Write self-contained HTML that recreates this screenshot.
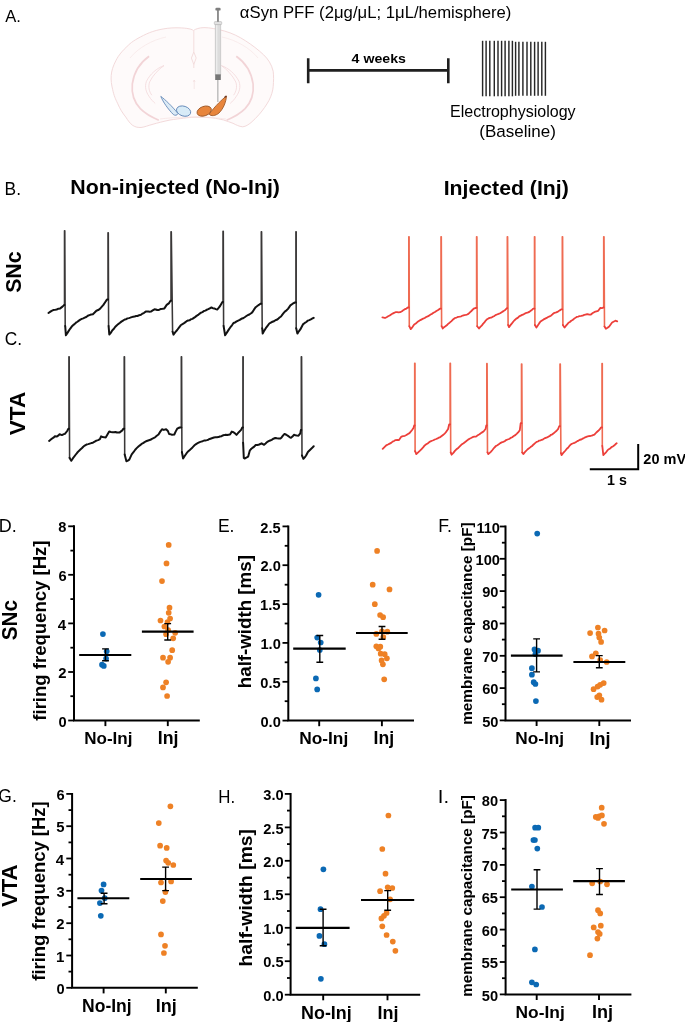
<!DOCTYPE html>
<html><head><meta charset="utf-8"><style>
html,body{margin:0;padding:0;background:#fff;overflow:hidden;}
svg{display:block;}
.ov{position:absolute;left:0;top:0;will-change:transform;}
text{font-family:"Liberation Sans",sans-serif;fill:#000;}
</style></head><body>
<svg width="685" height="1022" viewBox="0 0 685 1022">
<rect width="685" height="1022" fill="#fff"/>
<g>
 <path d="M193.5 30.5 C191 28.5 184 27.8 176 27.8 C165 27.8 154 30.5 146.6 33.9 C138 38 132 41.5 128.6 45 C122 51 118.5 55.5 116.1 60.2 C113 66 111.5 71 111.2 75.5 C110.8 80 111.5 85 112.6 89.3 C114 96 115.5 99 117.5 103.2 C120 109 122.5 113 125.8 117.1 C128 120.5 130 123.5 132.7 125.4 C135.5 127.2 138 127.6 141 127.5 C145 127 148 125.5 152 124.5 C158 122.8 163 121.5 170 120 C180 118.5 188 117.5 194 117.2 C200 117.2 206 117.2 212 117.8 C217 118.5 220 119.2 223.3 119.9 C227 121 230 122.3 233 123.3 C236 124.8 239 126.5 242.7 126.8 C246 126.5 248.5 124.5 251 122.6 C254 120 256.5 117.5 259.3 114.3 C263 110 266.5 105 269 100.4 C271.5 95.5 272.8 91 273.2 86.6 C273.6 81 273.8 76 273.2 71.3 C271.5 64 268 59 263.5 54.7 C258 49.5 252 45 245.5 40.8 C239 36.5 232 33.2 224.7 31.1 C217 29 210 27.6 203.9 27.6 C199 27.8 196 28.8 193.5 30.5 Z" fill="#fefafa" stroke="#f3dadb" stroke-width="1"/>
 <path d="M193.8 31 L193.8 52 M193.8 52 L191.4 58 L193.8 64.5 L196.2 58 Z M193.8 64.5 L193.8 68" fill="none" stroke="#f0d6d6" stroke-width="0.8"/>
 <path d="M194.2 80 L194.2 89 M193.2 82 L194.2 80 L195.2 82" fill="none" stroke="#f1dcdc" stroke-width="0.6"/>
 
 
 
 
 
 <path d="M149.1 56.3 C141 62 134 72 132.3 84 C131.2 95 135 103 140.3 108.7 C145 113.5 151 117 158.8 120.2" fill="none" stroke="#f2d4d7" stroke-width="1.7"/>
 <path d="M236.3 56.3 C244.4 62 251.4 72 253.1 84 C254.2 95 250.4 103 245.1 108.7 C240.4 113.5 234.4 117 226.6 120.2" fill="none" stroke="#f2d4d7" stroke-width="1.7"/>
 <path d="M164 65.6 C157 68 150 74 146.4 81.4 C144.5 87 146 92 149.1 96.4 C151 99.5 153 101.5 155.2 103.4 M164 65.6 C158.5 69.5 153 75 149.6 82 C148 87 149.2 91.5 151.8 95.2" fill="none" stroke="#f3d8da" stroke-width="0.8"/>
 <path d="M221.4 65.6 C228.4 68 235.4 74 239 81.4 C240.9 87 239.4 92 236.3 96.4 C234.4 99.5 232.4 101.5 230.2 103.4 M221.4 65.6 C226.9 69.5 232.4 75 235.8 82 C237.4 87 236.2 91.5 233.6 95.2" fill="none" stroke="#f3d8da" stroke-width="0.8"/>
 <path d="M160 119 C175 117.2 185 117 193 117 C201 117 211 117.2 226 119" fill="none" stroke="#f6e2e2" stroke-width="0.7"/>
 <path d="M166 37 C152 40 138 48 130 58 M222 37 C236 40 250 48 258 58" fill="none" stroke="#f8e8e8" stroke-width="0.8"/>
 <path d="M160.8 96.4 C165 99.5 172 106 178 113.6 C177 115.6 175 115.6 173.4 114.6 C168 109 163 102 160.8 96.4 Z" fill="#dcebf6" stroke="#6489b8" stroke-width="0.9"/>
 <ellipse cx="183.6" cy="111.1" rx="7.3" ry="4.9" transform="rotate(18 183.6 111.1)" fill="#d8ebf7" stroke="#6489b8" stroke-width="0.9"/>
 <ellipse cx="204.2" cy="111.1" rx="7.4" ry="4.7" transform="rotate(-20 204.2 111.1)" fill="#e8853c" stroke="#a05a2a" stroke-width="0.9"/>
 <path d="M226.5 96 C222.5 99 215 106 209.2 114.2 C211 116.5 215.5 116 219 113 C223.5 108.5 226 102 226.5 96 Z" fill="#e8853c" stroke="#a05a2a" stroke-width="0.9"/>
 <path d="M224.5 97.5 L226.3 96" stroke="#6b3a2a" stroke-width="1.4"/>
 <rect x="217.3" y="79.5" width="1.1" height="22.5" fill="#a9a9a9"/>
 <rect x="215.2" y="24" width="5.6" height="51" fill="#dcdcdc" stroke="#bcbcbc" stroke-width="0.6"/>
 <rect x="216" y="25" width="1.4" height="49" fill="#ececec"/>
 <rect x="215.2" y="74.4" width="5.6" height="5.6" fill="#767676"/>
 <rect x="214.3" y="21.6" width="7.4" height="3" rx="0.8" fill="#e2e2e2" stroke="#a8a8a8" stroke-width="0.5"/>
 <rect x="217.0" y="9.8" width="1.9" height="12" fill="#8d8d8d"/>
 <rect x="215.4" y="7.8" width="5.2" height="2.8" rx="1.2" fill="#7e7e7e"/>
</g>

<path d="M308.2 58.2 V83.2 M448.3 58.2 V83.2 M308.2 70.4 H448.3" stroke="#1f1f1f" stroke-width="2.6" fill="none"/>
<path d="M482.6 40.8 V96.3" stroke="#262626" stroke-width="1.45"/><path d="M486.1 40.8 V96.3" stroke="#262626" stroke-width="1.45"/><path d="M489.8 40.8 V96.3" stroke="#262626" stroke-width="1.45"/><path d="M494.3 40.8 V96.3" stroke="#262626" stroke-width="1.45"/><path d="M498.0 40.8 V96.3" stroke="#262626" stroke-width="1.45"/><path d="M501.6 40.8 V96.3" stroke="#262626" stroke-width="1.45"/><path d="M505.1 40.8 V96.3" stroke="#262626" stroke-width="1.45"/><path d="M508.9 40.8 V96.3" stroke="#262626" stroke-width="1.45"/><path d="M512.4 40.8 V96.3" stroke="#262626" stroke-width="1.45"/><path d="M515.6 41.8 V95.8" stroke="#262626" stroke-width="1.45"/><path d="M518.9 41.8 V95.8" stroke="#262626" stroke-width="1.45"/><path d="M522.9 41.8 V95.8" stroke="#262626" stroke-width="1.45"/><path d="M527.0 41.8 V95.8" stroke="#262626" stroke-width="1.45"/><path d="M530.8 41.8 V95.8" stroke="#262626" stroke-width="1.45"/><path d="M534.6 41.8 V95.8" stroke="#262626" stroke-width="1.45"/><path d="M538.1 41.8 V95.8" stroke="#262626" stroke-width="1.45"/><path d="M541.8 41.8 V95.8" stroke="#262626" stroke-width="1.45"/><path d="M545.4 41.8 V95.8" stroke="#262626" stroke-width="1.45"/>
<path d="M64.50 305.10 L64.50 230.65 L64.80 230.65 L65.20 326.00 M108.00 299.60 L108.00 232.65 L108.30 232.65 L108.60 326.00 M171.00 300.80 L171.00 231.85 L171.30 231.85 L172.60 331.70 M223.00 301.90 L223.00 231.15 L223.30 231.15 L223.60 325.90 M261.30 303.70 L261.30 231.85 L261.60 231.85 L262.20 328.20 M295.90 302.50 L295.90 231.85 L296.20 231.85 L296.20 328.20" fill="none" stroke="#3a3838" stroke-width="1.55" stroke-linejoin="round" stroke-linecap="round"/>
<path d="M48.50 313.00 L50.07 311.93 L51.63 310.87 L53.20 310.10 L54.95 309.88 L56.70 309.50 L58.45 308.71 L60.20 308.40 L62.50 306.60 L64.00 305.10 L64.50 305.10 M65.20 326.00 L65.90 335.30 L67.30 333.15 L68.70 330.89 L70.10 328.80 L71.55 326.80 L73.00 325.30 L74.47 324.13 L75.95 322.69 L77.43 321.74 L78.90 320.60 L80.35 319.63 L81.80 318.92 L83.25 318.38 L84.70 317.70 L86.27 317.02 L87.83 315.76 L89.40 315.10 L91.15 314.50 L92.90 314.20 L94.65 312.52 L96.40 310.70 L98.15 310.05 L99.90 308.90 L101.65 306.94 L103.40 304.90 L105.15 302.19 L106.90 299.60 L108.00 299.60 M108.60 326.00 L109.30 334.50 L110.75 332.89 L112.20 330.50 L113.65 329.08 L115.10 327.00 L116.63 325.55 L118.17 324.13 L119.70 323.00 L121.37 321.62 L123.03 320.56 L124.70 319.50 L126.10 319.20 L127.50 318.36 L128.90 318.11 L130.30 317.66 L131.70 317.10 L133.15 316.75 L134.60 316.58 L136.05 316.03 L137.50 316.00 L139.25 315.15 L141.00 314.80 L142.57 313.57 L144.13 312.77 L145.70 311.60 L147.00 311.56 L148.30 311.50 L149.60 311.65 L150.90 311.60 L152.70 310.42 L154.50 309.30 L155.83 309.45 L157.17 310.00 L158.50 310.10 L160.90 308.90 L162.65 308.76 L164.40 308.40 L166.70 304.90 L169.10 303.10 L170.50 300.80 L171.00 300.80 M172.60 331.70 L173.50 334.60 L175.35 332.16 L177.20 330.00 L178.95 327.69 L180.70 325.30 L182.17 324.29 L183.65 323.46 L185.12 322.35 L186.60 321.20 L188.05 320.51 L189.50 320.32 L190.95 319.26 L192.40 318.90 L195.00 317.10 L196.57 315.89 L198.13 314.91 L199.70 313.60 L201.10 312.65 L202.50 312.07 L203.90 311.06 L205.30 310.65 L206.70 309.80 L208.27 309.18 L209.83 308.31 L211.40 307.50 L212.85 308.21 L214.30 308.40 L215.75 309.11 L217.20 309.50 L218.65 307.80 L220.10 306.00 L222.40 301.90 L223.00 301.90 M223.60 325.90 L225.10 335.30 L227.00 332.39 L228.90 329.40 L230.43 327.24 L231.97 325.32 L233.50 323.00 L235.07 322.45 L236.63 321.39 L238.20 320.60 L239.77 319.93 L241.33 318.82 L242.90 318.30 L244.65 317.26 L246.40 316.00 L247.85 315.18 L249.30 314.48 L250.75 313.48 L252.20 312.40 L253.95 309.68 L255.70 307.20 L257.27 305.97 L258.83 304.96 L260.40 303.70 L261.30 303.70 M262.20 328.20 L262.70 333.60 L264.25 330.63 L265.80 328.20 L267.55 325.83 L269.30 323.50 L270.87 322.55 L272.43 321.75 L274.00 321.20 L275.37 320.19 L276.73 319.82 L278.10 318.90 L279.55 317.49 L281.00 316.50 L282.37 314.63 L283.73 312.97 L285.10 311.30 L286.55 310.31 L288.00 308.90 L290.40 305.40 L292.70 303.70 L295.00 302.50 L295.90 302.50 M296.20 328.20 L297.40 333.60 L298.85 331.27 L300.30 329.40 L301.75 326.72 L303.20 324.10 L304.77 322.96 L306.33 321.98 L307.90 320.60 L309.35 320.10 L310.80 319.45 L312.25 318.45 L313.70 317.90" fill="none" stroke="#121212" stroke-width="2.0" stroke-linejoin="round" stroke-linecap="round"/>
<path d="M68.90 428.70 L68.90 356.65 L69.20 356.65 L69.60 457.90 M124.20 428.70 L124.20 356.75 L124.50 356.75 L124.70 454.40 M181.30 427.50 L181.30 356.75 L181.60 356.75 L181.90 452.00 M242.90 427.50 L242.90 356.75 L243.20 356.75 L243.10 442.70 M301.30 429.90 L301.30 356.75 L301.60 356.75 L302.00 455.50" fill="none" stroke="#3a3838" stroke-width="1.55" stroke-linejoin="round" stroke-linecap="round"/>
<path d="M49.10 440.90 L50.55 439.70 L52.00 438.52 L53.45 437.67 L54.90 436.30 L56.70 436.60 L58.15 435.71 L59.60 434.30 L61.90 435.10 L63.40 434.30 L64.90 433.90 L67.20 431.00 L68.40 428.70 L68.90 428.70 M69.60 457.90 L71.30 460.80 L72.67 458.69 L74.03 456.78 L75.40 455.00 L77.15 452.80 L78.90 450.90 L80.35 449.57 L81.80 448.30 L83.25 446.79 L84.70 445.60 L86.45 444.57 L88.20 444.10 L89.77 443.59 L91.33 443.09 L92.90 442.70 L94.65 441.69 L96.40 440.60 L98.15 440.15 L99.90 439.20 L101.10 436.30 L102.80 437.10 L104.25 437.36 L105.70 437.40 L107.45 434.51 L109.20 431.60 L110.95 431.97 L112.70 432.20 L114.10 432.34 L115.50 432.03 L116.90 432.54 L118.30 432.52 L119.70 432.40 L122.30 430.40 L123.50 428.70 L124.20 428.70 M124.70 454.40 L126.40 461.20 L127.85 460.61 L129.30 459.60 L131.70 454.40 L133.45 452.22 L135.20 449.70 L136.95 447.89 L138.70 446.20 L140.15 445.12 L141.60 443.93 L143.05 443.20 L144.50 442.10 L145.97 441.28 L147.45 440.71 L148.93 440.21 L150.40 439.80 L151.93 438.81 L153.47 438.11 L155.00 437.40 L156.75 435.70 L158.50 434.50 L160.25 431.62 L162.00 429.30 L163.80 429.90 L166.10 429.30 L167.90 431.00 L169.10 434.00 L170.55 434.20 L172.00 434.80 L174.30 434.50 L175.75 431.38 L177.20 428.70 L179.60 427.50 L181.30 427.50 M181.90 452.00 L183.10 458.50 L184.85 455.77 L186.60 453.20 L188.35 451.18 L190.10 449.70 L191.67 448.34 L193.23 446.63 L194.80 445.00 L196.43 443.84 L198.07 442.93 L199.70 442.10 L201.15 441.59 L202.60 441.17 L204.05 440.61 L205.50 440.40 L206.90 440.12 L208.30 439.72 L209.70 438.94 L211.10 438.47 L212.50 438.00 L213.97 437.54 L215.45 437.33 L216.93 437.24 L218.40 437.10 L219.85 436.47 L221.30 436.28 L222.75 435.41 L224.20 435.10 L225.65 434.68 L227.10 435.05 L228.55 434.67 L230.00 434.50 L231.80 431.60 L233.50 432.20 L235.00 433.35 L236.50 434.90 L238.80 432.20 L241.10 429.90 L242.30 427.50 L242.90 427.50 M243.10 442.70 L243.80 457.90 L244.60 458.50 L246.35 457.62 L248.10 456.70 L249.90 450.30 L251.35 448.71 L252.80 447.67 L254.25 446.59 L255.70 445.00 L257.45 444.95 L259.20 444.50 L261.60 443.30 L264.10 444.80 L265.55 443.56 L267.00 442.10 L268.57 441.20 L270.13 440.49 L271.70 439.80 L273.45 438.71 L275.20 438.00 L276.93 438.35 L278.67 438.42 L280.40 438.60 L281.77 437.19 L283.13 435.37 L284.50 433.90 L286.25 434.74 L288.00 435.90 L289.50 437.02 L291.00 437.80 L292.45 436.57 L293.90 434.80 L295.43 435.30 L296.97 435.57 L298.50 435.70 L300.30 433.40 L300.90 429.90 L301.30 429.90 M302.00 455.50 L303.40 458.80 L304.75 457.33 L306.10 455.50 L307.90 452.00 L310.20 449.70 L311.95 448.08 L313.70 446.20" fill="none" stroke="#121212" stroke-width="2.0" stroke-linejoin="round" stroke-linecap="round"/>
<path d="M408.80 307.50 L408.80 236.75 L409.10 236.75 L409.30 326.20 M441.00 308.70 L441.00 236.75 L441.30 236.75 L441.60 326.20 M476.60 307.80 L476.60 236.75 L476.90 236.75 L477.20 326.20 M507.30 308.10 L507.30 236.75 L507.60 236.75 L508.10 325.00 M534.50 308.70 L534.50 236.75 L534.80 236.75 L534.90 325.00 M562.30 309.30 L562.30 236.75 L562.60 236.75 L562.90 325.00 M603.70 307.50 L603.70 236.75 L604.00 236.75 L604.50 326.50" fill="none" stroke="#ef6b52" stroke-width="1.6" stroke-linejoin="round" stroke-linecap="round"/>
<path d="M382.40 317.40 L383.70 317.55 L385.00 318.00 L386.57 317.18 L388.13 316.25 L389.70 315.50 L391.15 314.41 L392.60 313.59 L394.05 312.90 L395.50 312.20 L397.07 312.07 L398.63 312.31 L400.20 312.20 L401.95 311.31 L403.70 309.90 L405.07 309.07 L406.43 308.54 L407.80 307.50 L408.80 307.50 M409.30 326.20 L410.70 329.10 L412.45 327.07 L414.20 324.50 L415.77 323.59 L417.33 322.09 L418.90 321.00 L420.35 320.09 L421.80 319.35 L423.25 318.58 L424.70 318.00 L426.18 316.96 L427.65 316.32 L429.12 315.60 L430.60 314.50 L432.05 313.82 L433.50 312.74 L434.95 311.96 L436.40 311.00 L438.15 310.02 L439.90 308.70 L441.00 308.70 M441.60 326.20 L442.80 328.50 L444.12 327.12 L445.45 326.29 L446.78 325.28 L448.10 323.90 L449.63 322.69 L451.17 321.31 L452.70 319.80 L455.00 318.00 L456.57 317.52 L458.13 316.89 L459.70 316.60 L461.23 316.26 L462.77 315.51 L464.30 315.10 L465.67 314.87 L467.03 314.56 L468.40 313.90 L469.90 312.39 L471.40 311.00 L473.70 308.70 L476.00 307.80 L476.60 307.80 M477.20 326.20 L479.00 328.50 L480.33 326.91 L481.67 325.68 L483.00 323.90 L484.37 322.46 L485.73 320.58 L487.10 319.20 L488.43 318.42 L489.75 317.85 L491.07 317.70 L492.40 316.90 L493.93 316.27 L495.47 315.10 L497.00 314.50 L498.57 313.92 L500.13 313.24 L501.70 312.20 L503.45 311.14 L505.20 309.90 L507.00 308.10 L507.30 308.10 M508.10 325.00 L509.00 327.10 L510.47 325.15 L511.93 323.39 L513.40 321.50 L514.85 319.99 L516.30 318.63 L517.75 317.86 L519.20 316.30 L520.68 315.66 L522.15 314.86 L523.62 314.37 L525.10 313.40 L526.63 312.76 L528.17 312.41 L529.70 311.60 L531.45 310.33 L533.20 308.70 L534.50 308.70 M534.90 325.00 L536.40 327.60 L537.77 325.40 L539.13 323.39 L540.50 321.50 L542.07 320.42 L543.63 319.42 L545.20 318.60 L546.65 317.92 L548.10 317.02 L549.55 316.38 L551.00 315.70 L552.75 314.04 L554.50 312.80 L556.25 312.43 L558.00 311.60 L559.75 310.37 L561.50 309.30 L562.30 309.30 M562.90 325.00 L564.50 327.60 L565.83 325.94 L567.17 324.38 L568.50 322.70 L569.87 321.96 L571.23 320.72 L572.60 320.03 L573.97 318.83 L575.33 317.88 L576.70 316.90 L578.18 316.61 L579.65 316.03 L581.12 315.97 L582.60 315.70 L584.20 314.92 L585.80 314.50 L587.50 314.22 L589.20 314.67 L590.90 314.50 L592.75 313.02 L594.60 311.90 L596.40 311.34 L598.20 310.80 L600.40 307.90 L601.90 308.20 L603.30 307.50 L603.70 307.50 M604.50 326.50 L605.90 328.70 L607.55 327.73 L609.20 326.50 L610.65 324.53 L612.10 322.50 L613.95 321.50 L615.80 320.70 L617.20 321.40" fill="none" stroke="#ec3f3a" stroke-width="1.8" stroke-linejoin="round" stroke-linecap="round"/>
<path d="M414.70 425.50 L414.70 363.25 L415.00 363.25 L415.10 451.20 M450.10 424.30 L450.10 363.25 L450.40 363.25 L450.70 452.40 M486.80 425.50 L486.80 363.65 L487.10 363.65 L487.50 452.40 M521.50 423.20 L521.50 364.05 L521.80 364.05 L522.20 452.40 M560.00 426.20 L560.00 364.05 L560.30 364.05 L560.90 453.10 M602.00 427.50 L602.00 363.45 L602.30 363.45 L602.30 445.90" fill="none" stroke="#ef6b52" stroke-width="1.6" stroke-linejoin="round" stroke-linecap="round"/>
<path d="M382.70 448.90 L384.45 447.16 L386.20 445.40 L387.95 444.53 L389.70 443.60 L391.15 442.88 L392.60 441.63 L394.05 441.01 L395.50 440.10 L397.25 439.96 L399.00 440.10 L401.40 436.60 L403.15 436.08 L404.90 435.80 L406.43 435.05 L407.97 434.00 L409.50 433.10 L411.90 430.20 L413.60 427.80 L414.20 425.50 L414.70 425.50 M415.10 451.20 L416.30 454.10 L418.15 452.38 L420.00 450.60 L421.57 449.01 L423.13 447.36 L424.70 445.40 L426.18 444.34 L427.65 443.41 L429.12 442.33 L430.60 441.30 L432.00 440.73 L433.40 440.25 L434.80 439.53 L436.20 439.00 L437.60 438.40 L438.97 437.59 L440.33 437.05 L441.70 436.00 L443.03 434.94 L444.37 433.88 L445.70 432.50 L448.10 429.00 L449.20 424.30 L450.10 424.30 M450.70 452.40 L451.60 454.70 L453.35 452.90 L455.10 450.60 L456.80 449.02 L458.50 447.70 L460.25 445.98 L462.00 444.20 L463.57 443.28 L465.13 442.06 L466.70 440.70 L468.15 439.62 L469.60 438.74 L471.05 438.04 L472.50 437.20 L474.25 436.66 L476.00 436.60 L477.75 435.30 L479.50 434.30 L481.25 432.86 L483.00 431.90 L484.30 430.54 L485.60 429.00 L486.30 425.50 L486.80 425.50 M487.50 452.40 L488.30 454.10 L489.67 452.89 L491.03 451.59 L492.40 450.00 L494.15 447.81 L495.90 446.00 L497.35 445.22 L498.80 444.29 L500.25 443.10 L501.70 442.40 L503.18 441.89 L504.65 441.21 L506.12 440.07 L507.60 439.50 L509.13 438.99 L510.67 437.91 L512.20 437.20 L513.77 436.03 L515.33 435.14 L516.90 433.70 L518.35 432.14 L519.80 430.20 L520.70 423.20 L521.50 423.20 M522.20 452.40 L523.30 454.10 L524.67 452.38 L526.03 450.99 L527.40 449.50 L528.97 448.34 L530.53 447.08 L532.10 446.00 L533.60 444.46 L535.10 443.17 L536.60 441.90 L537.90 441.50 L539.20 440.59 L540.50 440.37 L541.80 439.79 L543.10 439.30 L544.42 438.37 L545.74 437.89 L547.06 437.39 L548.38 436.67 L549.70 436.00 L551.03 434.78 L552.35 434.32 L553.67 433.24 L555.00 432.10 L556.60 430.71 L558.20 428.80 L559.20 426.20 L560.00 426.20 M560.90 453.10 L561.50 455.10 L562.83 453.35 L564.17 451.90 L565.50 450.50 L566.80 448.77 L568.10 447.71 L569.40 445.95 L570.70 444.60 L572.02 443.73 L573.33 443.22 L574.65 442.83 L575.97 442.11 L577.28 441.13 L578.60 440.60 L579.92 439.74 L581.24 439.51 L582.56 438.66 L583.88 438.07 L585.20 437.30 L586.93 436.64 L588.67 436.19 L590.40 436.00 L591.73 435.67 L593.07 435.09 L594.40 434.70 L596.35 432.51 L598.30 430.80 L599.65 429.40 L601.00 427.50 L602.00 427.50 M602.30 445.90 L603.30 455.10 L604.67 453.70 L606.05 452.32 L607.42 450.44 L608.80 449.20 L610.13 448.50 L611.47 447.16 L612.80 446.50 L614.10 445.60 L615.40 444.27 L616.70 443.20" fill="none" stroke="#ec3f3a" stroke-width="1.8" stroke-linejoin="round" stroke-linecap="round"/>
<path d="M589.8 469.3 H638.2 V443.9" fill="none" stroke="#000" stroke-width="2"/>
<path d="M74.0 525.3 V720.5 H199.8" fill="none" stroke="#000" stroke-width="2"/>
<path d="M68.2 720.5 H74.0" stroke="#000" stroke-width="1.8"/>
<path d="M68.2 672.0 H74.0" stroke="#000" stroke-width="1.8"/>
<path d="M68.2 623.4 H74.0" stroke="#000" stroke-width="1.8"/>
<path d="M68.2 574.8 H74.0" stroke="#000" stroke-width="1.8"/>
<path d="M68.2 526.3 H74.0" stroke="#000" stroke-width="1.8"/>
<path d="M70.4 696.2 H74.0" stroke="#000" stroke-width="1.8"/>
<path d="M70.4 647.7 H74.0" stroke="#000" stroke-width="1.8"/>
<path d="M70.4 599.1 H74.0" stroke="#000" stroke-width="1.8"/>
<path d="M70.4 550.6 H74.0" stroke="#000" stroke-width="1.8"/>
<path d="M105.4 720.5 V726.1" stroke="#000" stroke-width="1.9"/>
<path d="M167.8 720.5 V726.1" stroke="#000" stroke-width="1.9"/>
<circle cx="102.9" cy="634.1" r="2.85" fill="#0b69b4"/>
<circle cx="106.7" cy="651.3" r="2.85" fill="#0b69b4"/>
<circle cx="106.1" cy="658.6" r="2.85" fill="#0b69b4"/>
<circle cx="102.0" cy="664.7" r="2.85" fill="#0b69b4"/>
<circle cx="103.8" cy="665.9" r="2.85" fill="#0b69b4"/>
<circle cx="168.7" cy="544.9" r="2.85" fill="#ee8125"/>
<circle cx="166.5" cy="563.4" r="2.85" fill="#ee8125"/>
<circle cx="162.0" cy="581.1" r="2.85" fill="#ee8125"/>
<circle cx="169.5" cy="607.7" r="2.85" fill="#ee8125"/>
<circle cx="168.7" cy="612.8" r="2.85" fill="#ee8125"/>
<circle cx="170.1" cy="618.5" r="2.85" fill="#ee8125"/>
<circle cx="160.5" cy="620.5" r="2.85" fill="#ee8125"/>
<circle cx="167.5" cy="622.0" r="2.85" fill="#ee8125"/>
<circle cx="164.4" cy="626.5" r="2.85" fill="#ee8125"/>
<circle cx="168.1" cy="630.1" r="2.85" fill="#ee8125"/>
<circle cx="175.2" cy="632.8" r="2.85" fill="#ee8125"/>
<circle cx="166.1" cy="634.2" r="2.85" fill="#ee8125"/>
<circle cx="173.2" cy="638.3" r="2.85" fill="#ee8125"/>
<circle cx="172.2" cy="650.2" r="2.85" fill="#ee8125"/>
<circle cx="163.0" cy="657.7" r="2.85" fill="#ee8125"/>
<circle cx="170.1" cy="657.7" r="2.85" fill="#ee8125"/>
<circle cx="168.1" cy="661.8" r="2.85" fill="#ee8125"/>
<circle cx="166.1" cy="682.3" r="2.85" fill="#ee8125"/>
<circle cx="163.0" cy="687.4" r="2.85" fill="#ee8125"/>
<circle cx="167.1" cy="696.0" r="2.85" fill="#ee8125"/>
<path d="M79.2 655.0 H131.3" stroke="#000" stroke-width="2.15"/>
<path d="M141.9 631.6 H193.6" stroke="#000" stroke-width="2.15"/>
<path d="M105.5 648.9 V660.7 M102.1 648.9 H108.9 M102.1 660.7 H108.9" stroke="#000" stroke-width="1.4" fill="none"/>
<path d="M167.7 623.6 V640.0 M164.3 623.6 H171.1 M164.3 640.0 H171.1" stroke="#000" stroke-width="1.4" fill="none"/>
<path d="M288.3 525.4 V720.6 H414.0" fill="none" stroke="#000" stroke-width="2"/>
<path d="M282.5 720.6 H288.3" stroke="#000" stroke-width="1.8"/>
<path d="M282.5 681.8 H288.3" stroke="#000" stroke-width="1.8"/>
<path d="M282.5 642.9 H288.3" stroke="#000" stroke-width="1.8"/>
<path d="M282.5 604.1 H288.3" stroke="#000" stroke-width="1.8"/>
<path d="M282.5 565.2 H288.3" stroke="#000" stroke-width="1.8"/>
<path d="M282.5 526.4 H288.3" stroke="#000" stroke-width="1.8"/>
<path d="M284.7 701.2 H288.3" stroke="#000" stroke-width="1.8"/>
<path d="M284.7 662.3 H288.3" stroke="#000" stroke-width="1.8"/>
<path d="M284.7 623.5 H288.3" stroke="#000" stroke-width="1.8"/>
<path d="M284.7 584.7 H288.3" stroke="#000" stroke-width="1.8"/>
<path d="M284.7 545.8 H288.3" stroke="#000" stroke-width="1.8"/>
<path d="M319.2 720.6 V726.2" stroke="#000" stroke-width="1.9"/>
<path d="M381.9 720.6 V726.2" stroke="#000" stroke-width="1.9"/>
<circle cx="318.6" cy="594.8" r="2.85" fill="#0b69b4"/>
<circle cx="317.2" cy="637.6" r="2.85" fill="#0b69b4"/>
<circle cx="320.7" cy="642.5" r="2.85" fill="#0b69b4"/>
<circle cx="319.8" cy="650.0" r="2.85" fill="#0b69b4"/>
<circle cx="315.9" cy="678.4" r="2.85" fill="#0b69b4"/>
<circle cx="317.2" cy="689.4" r="2.85" fill="#0b69b4"/>
<circle cx="377.1" cy="550.9" r="2.85" fill="#ee8125"/>
<circle cx="372.7" cy="584.7" r="2.85" fill="#ee8125"/>
<circle cx="389.5" cy="589.4" r="2.85" fill="#ee8125"/>
<circle cx="374.8" cy="604.2" r="2.85" fill="#ee8125"/>
<circle cx="380.1" cy="615.0" r="2.85" fill="#ee8125"/>
<circle cx="383.1" cy="617.2" r="2.85" fill="#ee8125"/>
<circle cx="376.3" cy="633.9" r="2.85" fill="#ee8125"/>
<circle cx="382.0" cy="631.3" r="2.85" fill="#ee8125"/>
<circle cx="387.3" cy="631.7" r="2.85" fill="#ee8125"/>
<circle cx="383.3" cy="637.0" r="2.85" fill="#ee8125"/>
<circle cx="376.3" cy="646.3" r="2.85" fill="#ee8125"/>
<circle cx="380.3" cy="646.7" r="2.85" fill="#ee8125"/>
<circle cx="378.5" cy="648.5" r="2.85" fill="#ee8125"/>
<circle cx="380.7" cy="653.7" r="2.85" fill="#ee8125"/>
<circle cx="384.7" cy="654.2" r="2.85" fill="#ee8125"/>
<circle cx="386.9" cy="658.3" r="2.85" fill="#ee8125"/>
<circle cx="381.6" cy="660.4" r="2.85" fill="#ee8125"/>
<circle cx="382.9" cy="664.3" r="2.85" fill="#ee8125"/>
<circle cx="384.2" cy="679.3" r="2.85" fill="#ee8125"/>
<path d="M293.2 648.6 H345.7" stroke="#000" stroke-width="2.15"/>
<path d="M356.0 633.0 H407.7" stroke="#000" stroke-width="2.15"/>
<path d="M319.8 635.5 V662.3 M316.4 635.5 H323.2 M316.4 662.3 H323.2" stroke="#000" stroke-width="1.4" fill="none"/>
<path d="M382.0 626.5 V639.2 M378.6 626.5 H385.4 M378.6 639.2 H385.4" stroke="#000" stroke-width="1.4" fill="none"/>
<path d="M505.5 525.5 V720.4 H631.0" fill="none" stroke="#000" stroke-width="2"/>
<path d="M499.7 720.4 H505.5" stroke="#000" stroke-width="1.8"/>
<path d="M499.7 688.1 H505.5" stroke="#000" stroke-width="1.8"/>
<path d="M499.7 655.8 H505.5" stroke="#000" stroke-width="1.8"/>
<path d="M499.7 623.5 H505.5" stroke="#000" stroke-width="1.8"/>
<path d="M499.7 591.1 H505.5" stroke="#000" stroke-width="1.8"/>
<path d="M499.7 558.8 H505.5" stroke="#000" stroke-width="1.8"/>
<path d="M499.7 526.5 H505.5" stroke="#000" stroke-width="1.8"/>
<path d="M501.9 704.2 H505.5" stroke="#000" stroke-width="1.8"/>
<path d="M501.9 671.9 H505.5" stroke="#000" stroke-width="1.8"/>
<path d="M501.9 639.6 H505.5" stroke="#000" stroke-width="1.8"/>
<path d="M501.9 607.3 H505.5" stroke="#000" stroke-width="1.8"/>
<path d="M501.9 575.0 H505.5" stroke="#000" stroke-width="1.8"/>
<path d="M501.9 542.7 H505.5" stroke="#000" stroke-width="1.8"/>
<path d="M536.6 720.4 V726.0" stroke="#000" stroke-width="1.9"/>
<path d="M599.3 720.4 V726.0" stroke="#000" stroke-width="1.9"/>
<circle cx="537.2" cy="533.6" r="2.85" fill="#0b69b4"/>
<circle cx="534.5" cy="649.4" r="2.85" fill="#0b69b4"/>
<circle cx="538.0" cy="650.7" r="2.85" fill="#0b69b4"/>
<circle cx="535.4" cy="654.2" r="2.85" fill="#0b69b4"/>
<circle cx="531.9" cy="668.2" r="2.85" fill="#0b69b4"/>
<circle cx="531.9" cy="674.7" r="2.85" fill="#0b69b4"/>
<circle cx="533.7" cy="682.2" r="2.85" fill="#0b69b4"/>
<circle cx="535.4" cy="684.0" r="2.85" fill="#0b69b4"/>
<circle cx="535.9" cy="701.1" r="2.85" fill="#0b69b4"/>
<circle cx="597.9" cy="627.5" r="2.85" fill="#ee8125"/>
<circle cx="604.6" cy="630.5" r="2.85" fill="#ee8125"/>
<circle cx="590.1" cy="633.1" r="2.85" fill="#ee8125"/>
<circle cx="598.5" cy="633.7" r="2.85" fill="#ee8125"/>
<circle cx="599.3" cy="637.5" r="2.85" fill="#ee8125"/>
<circle cx="601.1" cy="641.9" r="2.85" fill="#ee8125"/>
<circle cx="595.8" cy="653.3" r="2.85" fill="#ee8125"/>
<circle cx="592.0" cy="656.4" r="2.85" fill="#ee8125"/>
<circle cx="600.2" cy="660.0" r="2.85" fill="#ee8125"/>
<circle cx="606.7" cy="662.0" r="2.85" fill="#ee8125"/>
<circle cx="603.7" cy="683.1" r="2.85" fill="#ee8125"/>
<circle cx="600.2" cy="684.8" r="2.85" fill="#ee8125"/>
<circle cx="597.6" cy="686.6" r="2.85" fill="#ee8125"/>
<circle cx="593.6" cy="689.2" r="2.85" fill="#ee8125"/>
<circle cx="599.3" cy="695.3" r="2.85" fill="#ee8125"/>
<circle cx="597.2" cy="697.1" r="2.85" fill="#ee8125"/>
<circle cx="601.5" cy="699.7" r="2.85" fill="#ee8125"/>
<path d="M510.9 655.6 H562.6" stroke="#000" stroke-width="2.15"/>
<path d="M573.4 662.0 H625.3" stroke="#000" stroke-width="2.15"/>
<path d="M536.6 638.9 V671.9 M533.2 638.9 H540.0 M533.2 671.9 H540.0" stroke="#000" stroke-width="1.4" fill="none"/>
<path d="M599.3 655.6 V667.8 M595.9 655.6 H602.7 M595.9 667.8 H602.7" stroke="#000" stroke-width="1.4" fill="none"/>
<path d="M72.1 792.9 V987.8 H197.8" fill="none" stroke="#000" stroke-width="2"/>
<path d="M66.3 987.8 H72.1" stroke="#000" stroke-width="1.8"/>
<path d="M66.3 955.5 H72.1" stroke="#000" stroke-width="1.8"/>
<path d="M66.3 923.2 H72.1" stroke="#000" stroke-width="1.8"/>
<path d="M66.3 890.8 H72.1" stroke="#000" stroke-width="1.8"/>
<path d="M66.3 858.5 H72.1" stroke="#000" stroke-width="1.8"/>
<path d="M66.3 826.2 H72.1" stroke="#000" stroke-width="1.8"/>
<path d="M66.3 793.9 H72.1" stroke="#000" stroke-width="1.8"/>
<path d="M68.5 971.6 H72.1" stroke="#000" stroke-width="1.8"/>
<path d="M68.5 939.3 H72.1" stroke="#000" stroke-width="1.8"/>
<path d="M68.5 907.0 H72.1" stroke="#000" stroke-width="1.8"/>
<path d="M68.5 874.7 H72.1" stroke="#000" stroke-width="1.8"/>
<path d="M68.5 842.4 H72.1" stroke="#000" stroke-width="1.8"/>
<path d="M68.5 810.1 H72.1" stroke="#000" stroke-width="1.8"/>
<path d="M103.6 987.8 V993.4" stroke="#000" stroke-width="1.9"/>
<path d="M165.8 987.8 V993.4" stroke="#000" stroke-width="1.9"/>
<circle cx="103.6" cy="884.4" r="2.85" fill="#0b69b4"/>
<circle cx="101.5" cy="890.6" r="2.85" fill="#0b69b4"/>
<circle cx="104.7" cy="898.2" r="2.85" fill="#0b69b4"/>
<circle cx="99.9" cy="903.1" r="2.85" fill="#0b69b4"/>
<circle cx="100.8" cy="915.8" r="2.85" fill="#0b69b4"/>
<circle cx="170.4" cy="806.3" r="2.85" fill="#ee8125"/>
<circle cx="158.8" cy="823.1" r="2.85" fill="#ee8125"/>
<circle cx="160.1" cy="845.7" r="2.85" fill="#ee8125"/>
<circle cx="166.7" cy="847.9" r="2.85" fill="#ee8125"/>
<circle cx="166.1" cy="860.6" r="2.85" fill="#ee8125"/>
<circle cx="168.2" cy="862.8" r="2.85" fill="#ee8125"/>
<circle cx="173.3" cy="865.0" r="2.85" fill="#ee8125"/>
<circle cx="161.0" cy="882.5" r="2.85" fill="#ee8125"/>
<circle cx="171.1" cy="881.4" r="2.85" fill="#ee8125"/>
<circle cx="165.4" cy="892.1" r="2.85" fill="#ee8125"/>
<circle cx="162.8" cy="901.1" r="2.85" fill="#ee8125"/>
<circle cx="161.0" cy="934.4" r="2.85" fill="#ee8125"/>
<circle cx="165.0" cy="945.8" r="2.85" fill="#ee8125"/>
<circle cx="163.9" cy="953.0" r="2.85" fill="#ee8125"/>
<path d="M77.4 898.2 H129.3" stroke="#000" stroke-width="2.15"/>
<path d="M140.2 879.0 H191.9" stroke="#000" stroke-width="2.15"/>
<path d="M104.1 893.2 V903.7 M100.7 893.2 H107.5 M100.7 903.7 H107.5" stroke="#000" stroke-width="1.4" fill="none"/>
<path d="M165.6 867.1 V890.6 M162.2 867.1 H169.0 M162.2 890.6 H169.0" stroke="#000" stroke-width="1.4" fill="none"/>
<path d="M290.6 792.9 V994.7 H420.2" fill="none" stroke="#000" stroke-width="2"/>
<path d="M284.8 994.7 H290.6" stroke="#000" stroke-width="1.8"/>
<path d="M284.8 961.2 H290.6" stroke="#000" stroke-width="1.8"/>
<path d="M284.8 927.8 H290.6" stroke="#000" stroke-width="1.8"/>
<path d="M284.8 894.3 H290.6" stroke="#000" stroke-width="1.8"/>
<path d="M284.8 860.8 H290.6" stroke="#000" stroke-width="1.8"/>
<path d="M284.8 827.4 H290.6" stroke="#000" stroke-width="1.8"/>
<path d="M284.8 793.9 H290.6" stroke="#000" stroke-width="1.8"/>
<path d="M287.0 978.0 H290.6" stroke="#000" stroke-width="1.8"/>
<path d="M287.0 944.5 H290.6" stroke="#000" stroke-width="1.8"/>
<path d="M287.0 911.0 H290.6" stroke="#000" stroke-width="1.8"/>
<path d="M287.0 877.6 H290.6" stroke="#000" stroke-width="1.8"/>
<path d="M287.0 844.1 H290.6" stroke="#000" stroke-width="1.8"/>
<path d="M287.0 810.6 H290.6" stroke="#000" stroke-width="1.8"/>
<path d="M323.2 994.7 V1000.3" stroke="#000" stroke-width="1.9"/>
<path d="M387.5 994.7 V1000.3" stroke="#000" stroke-width="1.9"/>
<circle cx="323.4" cy="869.3" r="2.85" fill="#0b69b4"/>
<circle cx="320.5" cy="909.2" r="2.85" fill="#0b69b4"/>
<circle cx="319.4" cy="935.9" r="2.85" fill="#0b69b4"/>
<circle cx="324.4" cy="944.2" r="2.85" fill="#0b69b4"/>
<circle cx="320.9" cy="978.8" r="2.85" fill="#0b69b4"/>
<circle cx="388.4" cy="815.5" r="2.85" fill="#ee8125"/>
<circle cx="382.3" cy="849.0" r="2.85" fill="#ee8125"/>
<circle cx="385.5" cy="873.7" r="2.85" fill="#ee8125"/>
<circle cx="387.7" cy="887.3" r="2.85" fill="#ee8125"/>
<circle cx="392.3" cy="888.0" r="2.85" fill="#ee8125"/>
<circle cx="380.1" cy="891.2" r="2.85" fill="#ee8125"/>
<circle cx="390.1" cy="899.3" r="2.85" fill="#ee8125"/>
<circle cx="386.6" cy="912.9" r="2.85" fill="#ee8125"/>
<circle cx="384.0" cy="915.8" r="2.85" fill="#ee8125"/>
<circle cx="381.4" cy="918.4" r="2.85" fill="#ee8125"/>
<circle cx="382.3" cy="926.3" r="2.85" fill="#ee8125"/>
<circle cx="386.6" cy="935.0" r="2.85" fill="#ee8125"/>
<circle cx="392.8" cy="941.6" r="2.85" fill="#ee8125"/>
<circle cx="395.4" cy="950.8" r="2.85" fill="#ee8125"/>
<path d="M295.8 927.8 H349.6" stroke="#000" stroke-width="2.15"/>
<path d="M361.0 900.0 H414.2" stroke="#000" stroke-width="2.15"/>
<path d="M323.1 909.2 V945.8 M319.7 909.2 H326.5 M319.7 945.8 H326.5" stroke="#000" stroke-width="1.4" fill="none"/>
<path d="M387.7 890.6 V910.3 M384.3 890.6 H391.1 M384.3 910.3 H391.1" stroke="#000" stroke-width="1.4" fill="none"/>
<path d="M505.6 799.1 V994.4 H631.4" fill="none" stroke="#000" stroke-width="2"/>
<path d="M499.8 994.4 H505.6" stroke="#000" stroke-width="1.8"/>
<path d="M499.8 962.0 H505.6" stroke="#000" stroke-width="1.8"/>
<path d="M499.8 929.6 H505.6" stroke="#000" stroke-width="1.8"/>
<path d="M499.8 897.2 H505.6" stroke="#000" stroke-width="1.8"/>
<path d="M499.8 864.9 H505.6" stroke="#000" stroke-width="1.8"/>
<path d="M499.8 832.5 H505.6" stroke="#000" stroke-width="1.8"/>
<path d="M499.8 800.1 H505.6" stroke="#000" stroke-width="1.8"/>
<path d="M502.0 978.2 H505.6" stroke="#000" stroke-width="1.8"/>
<path d="M502.0 945.8 H505.6" stroke="#000" stroke-width="1.8"/>
<path d="M502.0 913.4 H505.6" stroke="#000" stroke-width="1.8"/>
<path d="M502.0 881.1 H505.6" stroke="#000" stroke-width="1.8"/>
<path d="M502.0 848.7 H505.6" stroke="#000" stroke-width="1.8"/>
<path d="M502.0 816.3 H505.6" stroke="#000" stroke-width="1.8"/>
<path d="M536.7 994.4 V1000.0" stroke="#000" stroke-width="1.9"/>
<path d="M599.0 994.4 V1000.0" stroke="#000" stroke-width="1.9"/>
<circle cx="535.1" cy="827.7" r="2.85" fill="#0b69b4"/>
<circle cx="538.3" cy="827.7" r="2.85" fill="#0b69b4"/>
<circle cx="533.4" cy="840.0" r="2.85" fill="#0b69b4"/>
<circle cx="534.9" cy="840.0" r="2.85" fill="#0b69b4"/>
<circle cx="537.3" cy="848.6" r="2.85" fill="#0b69b4"/>
<circle cx="531.9" cy="886.5" r="2.85" fill="#0b69b4"/>
<circle cx="542.0" cy="907.0" r="2.85" fill="#0b69b4"/>
<circle cx="534.9" cy="949.4" r="2.85" fill="#0b69b4"/>
<circle cx="531.9" cy="982.3" r="2.85" fill="#0b69b4"/>
<circle cx="536.2" cy="984.5" r="2.85" fill="#0b69b4"/>
<circle cx="601.7" cy="807.7" r="2.85" fill="#ee8125"/>
<circle cx="595.8" cy="816.9" r="2.85" fill="#ee8125"/>
<circle cx="599.1" cy="816.3" r="2.85" fill="#ee8125"/>
<circle cx="601.9" cy="815.4" r="2.85" fill="#ee8125"/>
<circle cx="598.0" cy="818.0" r="2.85" fill="#ee8125"/>
<circle cx="604.0" cy="823.8" r="2.85" fill="#ee8125"/>
<circle cx="592.2" cy="883.3" r="2.85" fill="#ee8125"/>
<circle cx="600.2" cy="881.5" r="2.85" fill="#ee8125"/>
<circle cx="607.0" cy="884.3" r="2.85" fill="#ee8125"/>
<circle cx="598.0" cy="910.2" r="2.85" fill="#ee8125"/>
<circle cx="600.2" cy="913.4" r="2.85" fill="#ee8125"/>
<circle cx="593.7" cy="927.4" r="2.85" fill="#ee8125"/>
<circle cx="600.8" cy="925.7" r="2.85" fill="#ee8125"/>
<circle cx="598.0" cy="932.1" r="2.85" fill="#ee8125"/>
<circle cx="599.7" cy="933.9" r="2.85" fill="#ee8125"/>
<circle cx="597.4" cy="938.6" r="2.85" fill="#ee8125"/>
<circle cx="590.0" cy="955.2" r="2.85" fill="#ee8125"/>
<path d="M511.2 889.5 H562.9" stroke="#000" stroke-width="2.15"/>
<path d="M573.2 881.1 H624.9" stroke="#000" stroke-width="2.15"/>
<path d="M537.0 869.7 V909.1 M533.6 869.7 H540.4 M533.6 909.1 H540.4" stroke="#000" stroke-width="1.4" fill="none"/>
<path d="M599.5 868.6 V894.5 M596.1 868.6 H602.9 M596.1 894.5 H602.9" stroke="#000" stroke-width="1.4" fill="none"/>
</svg>
<svg class="ov" width="685" height="1022" viewBox="0 0 685 1022">
<text transform="translate(5.30 21.90) scale(0.9700 1)" font-size="17.101" fill="#2a2829">A.</text>
<text transform="translate(239.83 18.07) scale(0.9948 1)" font-size="16.809" fill="#2a2829">αSyn PFF (2μg/μL; 1μL/hemisphere)</text>
<text transform="translate(351.62 62.67) scale(1.0806 1)" font-size="13.108" font-weight="bold" fill="#2a2829">4 weeks</text>
<text transform="translate(450.02 116.87) scale(0.9542 1)" font-size="16.809" fill="#2a2829">Electrophysiology</text>
<text transform="translate(479.28 137.16) scale(0.9822 1)" font-size="17.340" fill="#2a2829">(Baseline)</text>
<text transform="translate(4.61 195.00) scale(0.9455 1)" font-size="18.406" fill="#2a2829">B.</text>
<text transform="translate(4.83 344.52) scale(0.9536 1)" font-size="18.169" fill="#2a2829">C.</text>
<text transform="translate(70.31 194.49) scale(1.0393 1)" font-size="20.532" font-weight="bold" fill="#2a2829">Non-injected (No-Inj)</text>
<text transform="translate(443.71 194.51) scale(1.0403 1)" font-size="20.426" font-weight="bold" fill="#2a2829">Injected (Inj)</text>
<text transform="translate(21.08 292.84) rotate(-90) scale(0.9582 1)" font-size="22.254" font-weight="bold" fill="#2a2829">SNc</text>
<text transform="translate(24.90 435.23) rotate(-90) scale(0.9935 1)" font-size="22.754" font-weight="bold" fill="#2a2829">VTA</text>
<text transform="translate(643.36 463.95)" font-size="14.507" font-weight="bold" fill="#000">20 mV</text>
<text transform="translate(607.04 484.56) scale(1.0188 1)" font-size="14.000" font-weight="bold" fill="#000">1 s</text>
<text transform="translate(-1.24 531.70) scale(0.9989 1)" font-size="17.971" fill="#2a2829">D.</text>
<text transform="translate(217.90 531.90) scale(0.9601 1)" font-size="18.261" fill="#2a2829">E.</text>
<text transform="translate(438.18 531.90) scale(0.9696 1)" font-size="18.261" fill="#2a2829">F.</text>
<text transform="translate(-1.67 802.33)" font-size="17.465" fill="#2a2829">G.</text>
<text transform="translate(218.25 802.50) scale(0.9386 1)" font-size="17.971" fill="#2a2829">H.</text>
<text transform="translate(437.78 802.50) scale(1.1189 1)" font-size="18.116" fill="#2a2829">I.</text>
<text transform="translate(17.38 640.32) rotate(-90) scale(0.9296 1)" font-size="22.254" font-weight="bold" fill="#000">SNc</text>
<text transform="translate(17.10 907.12) rotate(-90) scale(0.9938 1)" font-size="22.319" font-weight="bold" fill="#000">VTA</text>
<text transform="translate(46.06 720.67) rotate(-90) scale(0.9628 1)" font-size="19.255" font-weight="bold" fill="#000">firing frequency [Hz]</text>
<text transform="translate(251.16 688.21) rotate(-90) scale(1.0241 1)" font-size="18.298" font-weight="bold" fill="#000">half-width [ms]</text>
<text transform="translate(471.77 724.77) rotate(-90) scale(1.0282 1)" font-size="14.894" font-weight="bold" fill="#000">membrane capacitance [pF]</text>
<text transform="translate(44.56 980.77) rotate(-90) scale(0.9590 1)" font-size="19.255" font-weight="bold" fill="#000">firing frequency [Hz]</text>
<text transform="translate(251.70 966.45) rotate(-90) scale(1.0157 1)" font-size="19.043" font-weight="bold" fill="#000">half-width [ms]</text>
<text transform="translate(471.77 996.77) rotate(-90) scale(1.0246 1)" font-size="14.894" font-weight="bold" fill="#000">membrane capacitance [pF]</text>
<text transform="translate(84.21 743.63)" font-size="17.026" font-weight="bold" fill="#000">No-Inj</text>
<text transform="translate(299.19 743.75)" font-size="17.323" font-weight="bold" fill="#000">No-Inj</text>
<text transform="translate(515.19 744.19)" font-size="17.249" font-weight="bold" fill="#000">No-Inj</text>
<text transform="translate(82.07 1011.98)" font-size="17.509" font-weight="bold" fill="#000">No-Inj</text>
<text transform="translate(301.05 1019.15)" font-size="17.881" font-weight="bold" fill="#000">No-Inj</text>
<text transform="translate(515.58 1017.87)" font-size="17.361" font-weight="bold" fill="#000">No-Inj</text>
<text transform="translate(157.86 744.05)" font-size="17.745" font-weight="bold" fill="#000">Inj</text>
<text transform="translate(373.56 743.98)" font-size="17.647" font-weight="bold" fill="#000">Inj</text>
<text transform="translate(589.54 744.77)" font-size="18.039" font-weight="bold" fill="#000">Inj</text>
<text transform="translate(155.64 1012.37)" font-size="18.039" font-weight="bold" fill="#000">Inj</text>
<text transform="translate(377.54 1019.27)" font-size="18.039" font-weight="bold" fill="#000">Inj</text>
<text transform="translate(592.04 1018.37)" font-size="18.039" font-weight="bold" fill="#000">Inj</text>
<text transform="translate(58.53 726.65)" font-size="14.648" font-weight="bold" fill="#000">0</text>
<text transform="translate(58.27 678.25)" font-size="14.857" font-weight="bold" fill="#000">2</text>
<text transform="translate(57.71 629.70)" font-size="15.072" font-weight="bold" fill="#000">4</text>
<text transform="translate(58.38 581.00)" font-size="14.648" font-weight="bold" fill="#000">6</text>
<text transform="translate(58.24 532.45)" font-size="14.648" font-weight="bold" fill="#000">8</text>
<text transform="translate(260.43 726.75)" font-size="14.648" font-weight="bold" fill="#000">0.0</text>
<text transform="translate(260.28 687.91)" font-size="14.648" font-weight="bold" fill="#000">0.5</text>
<text transform="translate(260.43 649.07)" font-size="14.648" font-weight="bold" fill="#000">1.0</text>
<text transform="translate(259.99 610.23)" font-size="14.857" font-weight="bold" fill="#000">1.5</text>
<text transform="translate(260.43 571.39)" font-size="14.648" font-weight="bold" fill="#000">2.0</text>
<text transform="translate(260.28 532.55)" font-size="14.648" font-weight="bold" fill="#000">2.5</text>
<text transform="translate(482.13 726.55)" font-size="14.648" font-weight="bold" fill="#000">50</text>
<text transform="translate(482.13 694.24)" font-size="14.648" font-weight="bold" fill="#000">60</text>
<text transform="translate(482.13 661.92)" font-size="14.648" font-weight="bold" fill="#000">70</text>
<text transform="translate(482.13 629.60)" font-size="14.648" font-weight="bold" fill="#000">80</text>
<text transform="translate(482.13 597.29)" font-size="14.648" font-weight="bold" fill="#000">90</text>
<text transform="translate(475.52 564.97)" font-size="14.648" font-weight="bold" fill="#000">100</text>
<text transform="translate(476.40 532.65)" font-size="14.648" font-weight="bold" fill="#000">110</text>
<text transform="translate(56.53 993.95)" font-size="14.648" font-weight="bold" fill="#000">0</text>
<text transform="translate(56.01 961.78)" font-size="15.072" font-weight="bold" fill="#000">1</text>
<text transform="translate(56.27 929.47)" font-size="14.857" font-weight="bold" fill="#000">2</text>
<text transform="translate(56.38 897.00)" font-size="14.648" font-weight="bold" fill="#000">3</text>
<text transform="translate(55.71 864.83)" font-size="15.072" font-weight="bold" fill="#000">4</text>
<text transform="translate(56.13 832.37)" font-size="14.857" font-weight="bold" fill="#000">5</text>
<text transform="translate(56.38 800.05)" font-size="14.648" font-weight="bold" fill="#000">6</text>
<text transform="translate(263.33 1000.85)" font-size="14.648" font-weight="bold" fill="#000">0.0</text>
<text transform="translate(263.18 967.39)" font-size="14.648" font-weight="bold" fill="#000">0.5</text>
<text transform="translate(263.33 933.92)" font-size="14.648" font-weight="bold" fill="#000">1.0</text>
<text transform="translate(262.89 900.45)" font-size="14.857" font-weight="bold" fill="#000">1.5</text>
<text transform="translate(263.33 866.99)" font-size="14.648" font-weight="bold" fill="#000">2.0</text>
<text transform="translate(263.18 833.52)" font-size="14.648" font-weight="bold" fill="#000">2.5</text>
<text transform="translate(263.33 800.05)" font-size="14.648" font-weight="bold" fill="#000">3.0</text>
<text transform="translate(481.83 1000.55)" font-size="14.648" font-weight="bold" fill="#000">50</text>
<text transform="translate(481.45 968.17)" font-size="14.857" font-weight="bold" fill="#000">55</text>
<text transform="translate(481.83 935.79)" font-size="14.648" font-weight="bold" fill="#000">60</text>
<text transform="translate(481.68 903.40)" font-size="14.648" font-weight="bold" fill="#000">65</text>
<text transform="translate(481.83 871.02)" font-size="14.648" font-weight="bold" fill="#000">70</text>
<text transform="translate(481.45 838.63)" font-size="14.857" font-weight="bold" fill="#000">75</text>
<text transform="translate(481.83 806.25)" font-size="14.648" font-weight="bold" fill="#000">80</text>
</svg>
</body></html>
